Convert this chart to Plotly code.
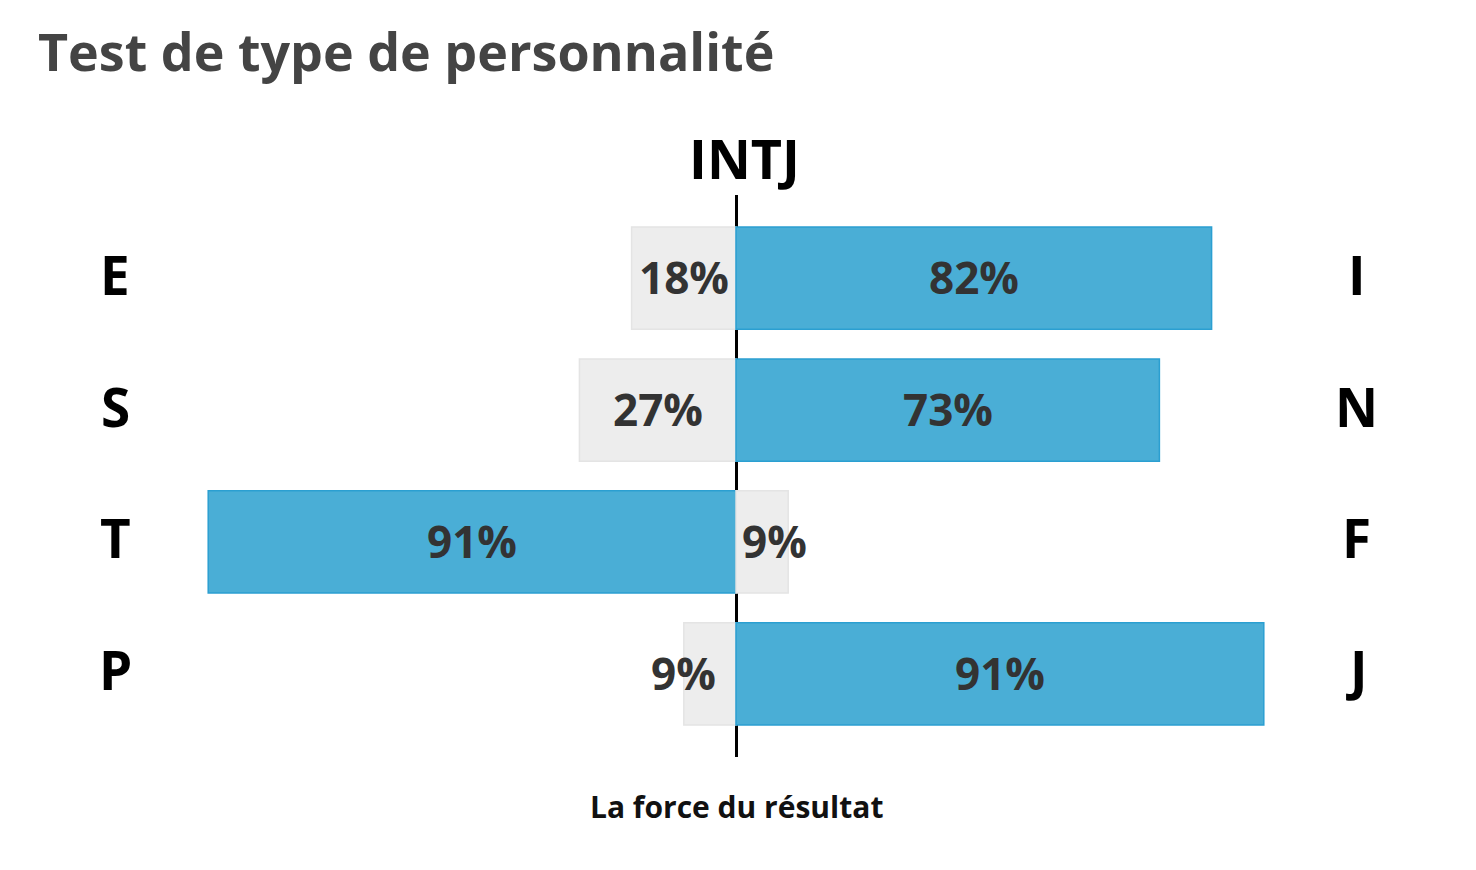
import plotly.graph_objects as go

# ---- data ----
left_letters = ["E", "S", "T", "P"]
right_letters = ["I", "N", "F", "J"]
left_pct = [18, 27, 91, 9]
right_pct = [82, 73, 9, 91]
row_ids = ["E-I", "S-N", "T-F", "P-J"]
type_code = "INTJ"
title_text = "Test de type de personnalité"
axis_label = "La force du résultat"

BLUE = "#4aaed6"
BLUE_EDGE = "#2b9fd1"
GREY = "#ededed"
GREY_EDGE = "#e4e4e4"
FONT = "Open Sans"

def colors(mine, other):
    return [BLUE if a > b else GREY for a, b in zip(mine, other)]

def edges(mine, other):
    return [BLUE_EDGE if a > b else GREY_EDGE for a, b in zip(mine, other)]

fig = go.Figure()

fig.add_trace(go.Bar(
    y=row_ids, x=[-v for v in left_pct], orientation="h",
    marker=dict(color=colors(left_pct, right_pct),
                line=dict(color=edges(left_pct, right_pct), width=1.5)),
    width=0.775, hoverinfo="skip", showlegend=False,
))
fig.add_trace(go.Bar(
    y=row_ids, x=right_pct, orientation="h",
    marker=dict(color=colors(right_pct, left_pct),
                line=dict(color=edges(right_pct, left_pct), width=1.5)),
    width=0.775, hoverinfo="skip", showlegend=False,
))

# percentage labels (centred in each bar, kept clear of the centre line for short bars)
MIN_HALF_L = 9.0
MIN_HALF_R = 6.6
label_x = [-max(v / 2, MIN_HALF_L) for v in left_pct] + [max(v / 2, MIN_HALF_R) for v in right_pct]
label_y = row_ids + row_ids
label_t = [f"{v}%" for v in left_pct] + [f"{v}%" for v in right_pct]

annotations = []
for lx, ly, lt in zip(label_x, label_y, label_t):
    annotations.append(dict(x=lx, y=ly, xref="x", yref="y", text=lt, showarrow=False,
                            yshift=1,
                            font=dict(family=FONT, size=44, color="#333333", weight="bold"),
                            xanchor="center", yanchor="middle"))

for rid, l, r in zip(row_ids, left_letters, right_letters):
    for xv, t in ((-107, l), (107, r)):
        annotations.append(dict(x=xv, y=rid, xref="x", yref="y", text=t, showarrow=False,
                                yshift=4,
                                font=dict(family=FONT, size=53, color="#000000", weight="bold"),
                                xanchor="center", yanchor="middle"))

annotations.append(dict(x=0, y=1.065, xref="x", yref="paper", text=type_code, showarrow=False,
                        xshift=8,
                        font=dict(family=FONT, size=54, color="#000000", weight="bold"),
                        xanchor="center", yanchor="middle"))
annotations.append(dict(x=0, y=-0.088, xref="x", yref="paper", text=axis_label, showarrow=False,
                        font=dict(family=FONT, size=30, color="#111111", weight="bold"),
                        xanchor="center", yanchor="middle"))

fig.update_layout(
    width=1468, height=862,
    margin=dict(l=90, r=102, t=187, b=113),
    paper_bgcolor="white", plot_bgcolor="white",
    barmode="relative",
    title=dict(text=title_text, x=30 / 1468, xref="container", xanchor="left",
               y=1 - 27 / 862, yref="container", yanchor="top",
               font=dict(family=FONT, size=52, color="#444444", weight="bold")),
    xaxis=dict(range=[-110, 110], showgrid=False, showticklabels=False, ticks="",
               zeroline=True, zerolinecolor="#000000", zerolinewidth=3, fixedrange=True),
    yaxis=dict(range=[3.63, -0.63], showgrid=False, showticklabels=False, ticks="",
               zeroline=False, categoryorder="array", categoryarray=row_ids, fixedrange=True),
    annotations=annotations,
)

fig.write_html("out.html")
